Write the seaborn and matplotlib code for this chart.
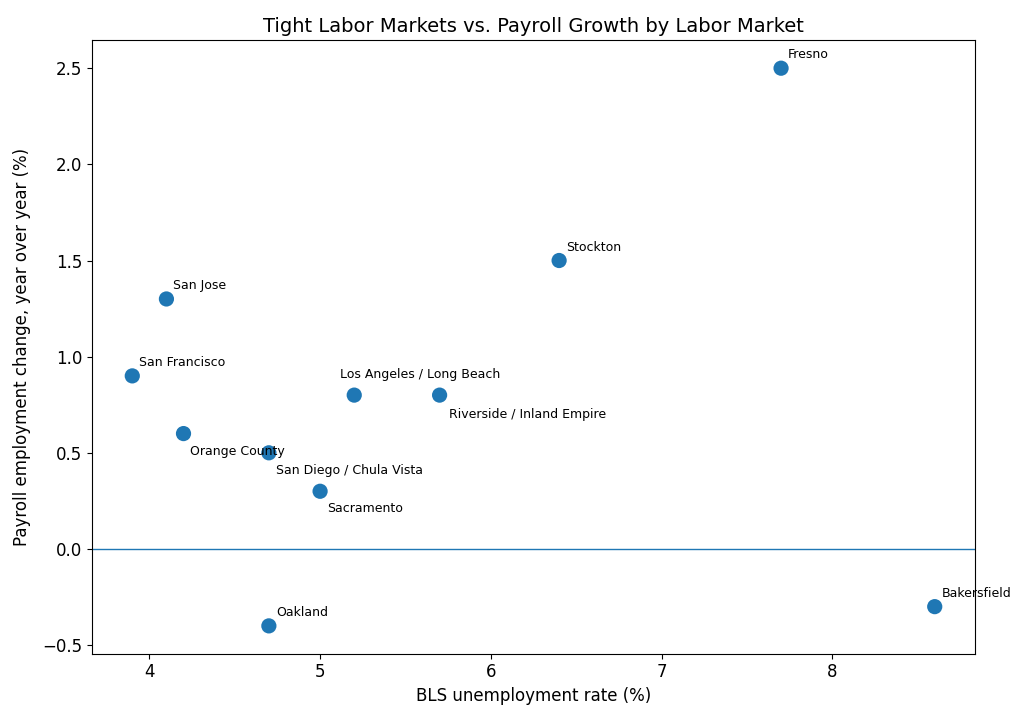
import pandas as pd
import matplotlib.pyplot as plt
import seaborn as sns

# labor market data
markets = ['San Francisco', 'San Jose', 'Orange County', 'San Diego / Chula Vista',
           'Oakland', 'Sacramento', 'Los Angeles / Long Beach',
           'Riverside / Inland Empire', 'Stockton', 'Fresno', 'Bakersfield']
unemployment = [3.9, 4.1, 4.2, 4.7, 4.7, 5.0, 5.2, 5.7, 6.4, 7.7, 8.6]
payroll_growth = [0.9, 1.3, 0.6, 0.5, -0.4, 0.3, 0.8, 0.8, 1.5, 2.5, -0.3]

df = pd.DataFrame({'market': markets, 'unemp': unemployment, 'growth': payroll_growth})

# label placement (offset in points, vertical alignment)
offsets = {
    'Orange County': ((5, -8), 'top'),
    'San Diego / Chula Vista': ((5, -8), 'top'),
    'Sacramento': ((5, -8), 'top'),
    'Riverside / Inland Empire': ((7, -9), 'top'),
    'Los Angeles / Long Beach': ((-10, 10), 'bottom'),
}

fig, ax = plt.subplots(figsize=(10.24, 7.2), dpi=100)
sns.scatterplot(data=df, x='unemp', y='growth', s=120, color='#1f77b4',
                edgecolor='none', ax=ax)
ax.axhline(0, color='#1f77b4', linewidth=1)

for _, row in df.iterrows():
    off, va = offsets.get(row['market'], ((5, 5), 'bottom'))
    ax.annotate(row['market'], (row['unemp'], row['growth']), xytext=off,
                textcoords='offset points', fontsize=9, va=va, ha='left')

ax.set_title('Tight Labor Markets vs. Payroll Growth by Labor Market', fontsize=14)
ax.set_xlabel('BLS unemployment rate (%)', fontsize=12)
ax.set_ylabel('Payroll employment change, year over year (%)', fontsize=12, labelpad=8)
ax.tick_params(labelsize=12)

fig.subplots_adjust(left=0.09, right=0.952, top=0.944, bottom=0.092)
plt.savefig('out.png')
